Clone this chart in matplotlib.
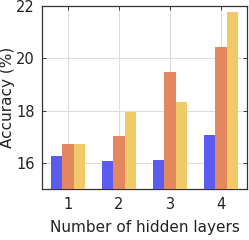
import matplotlib
matplotlib.use("Agg")
import matplotlib.pyplot as plt
import numpy as np

layers = [1, 2, 3, 4]
series_a = [16.26, 16.06, 16.10, 17.07]
series_b = [16.72, 17.03, 19.48, 20.43]
series_c = [16.72, 17.93, 18.32, 21.77]
colors = ['#5b5bef', '#e4875f', '#f1c966']
yticks = [16, 18, 20, 22]

plt.rcParams['font.family'] = ['DejaVu Sans']
fig = plt.figure(figsize=(2.49, 2.40), dpi=100)
ax = fig.add_axes([0.1687, 0.2125, 0.8233, 0.7625])

x = np.array(layers, dtype=float)
w = 0.222
for i, (vals, c) in enumerate(zip([series_a, series_b, series_c], colors)):
    ax.bar(x + (i - 1) * w, vals, width=w, color=c, edgecolor='none', zorder=3)

ax.set_xlim(0.49, 4.51)
ax.set_ylim(15, 22)
ax.set_xticks(layers)
ax.set_yticks(yticks)
ax.grid(True, color='#dddddd', linewidth=0.8, zorder=0)
ax.set_axisbelow(True)
ax.tick_params(direction='in', top=True, right=True, length=3, width=0.6,
               labelsize=10.5, colors='#222222', pad=6)
ax.tick_params(axis='y', pad=5)
for s in ax.spines.values():
    s.set_linewidth(0.9)
    s.set_color('#333333')
ax.set_xlabel('Number of hidden layers', fontsize=11, color='#222222')
ax.set_ylabel('Accuracy (%)', fontsize=11, color='#222222')
ax.xaxis.set_label_coords(0.5, -0.213)
ax.yaxis.set_label_coords(-0.168, 0.5)
ax.xaxis.label.set_va('center')
ax.yaxis.label.set_va('center')

fig.savefig('out.png', dpi=100)
